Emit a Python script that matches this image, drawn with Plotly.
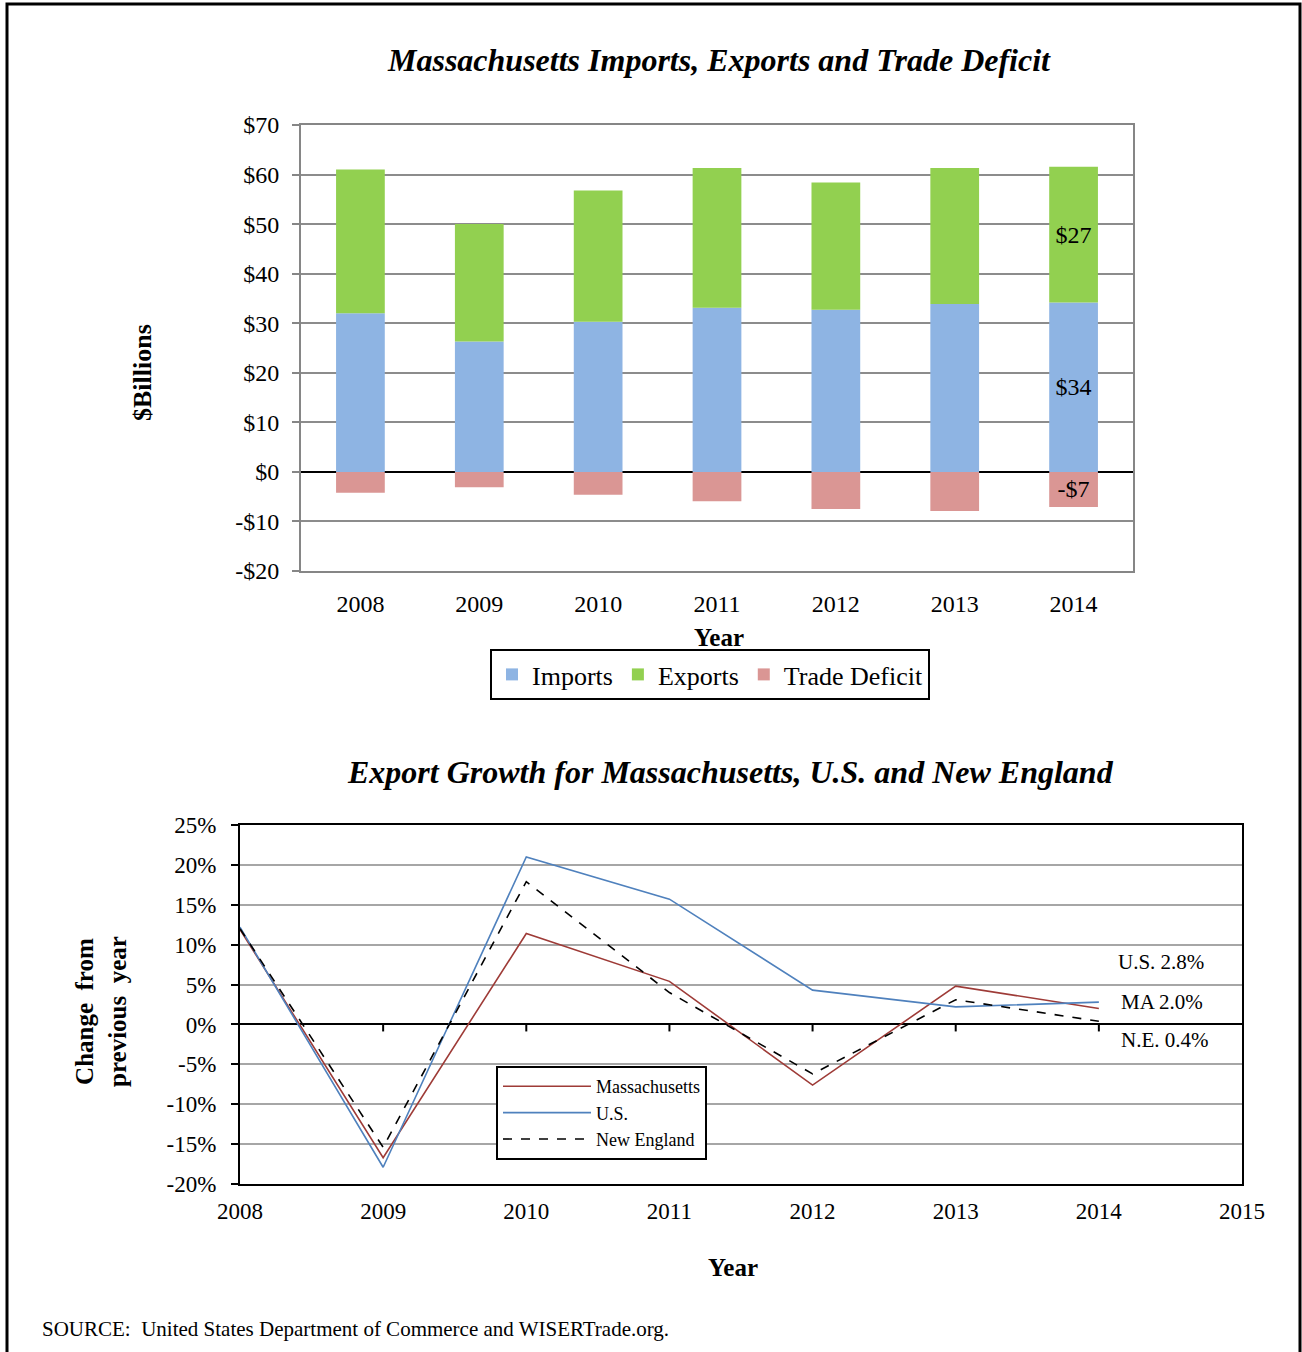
import plotly.graph_objects as go

# ---- Trade totals, $ billions ----
years = ["2008", "2009", "2010", "2011", "2012", "2013", "2014"]
imports = [32.0, 26.3, 30.3, 33.1, 32.7, 33.9, 34.2]
exports = [29.0, 23.7, 26.5, 28.2, 25.7, 27.4, 27.4]
trade_deficit = [-4.2, -3.1, -4.6, -5.9, -7.5, -7.9, -7.1]
bar_ticks = [-20, -10, 0, 10, 20, 30, 40, 50, 60, 70]
bar_tick_labels = ["-$20", "-$10", "$0", "$10", "$20", "$30", "$40", "$50", "$60", "$70"]

# ---- Export growth, % change from previous year ----
growth_years = [2008, 2009, 2010, 2011, 2012, 2013, 2014]
ma_growth = [11.9, -16.7, 11.4, 5.4, -7.6, 4.8, 2.0]
us_growth = [12.2, -17.9, 21.0, 15.7, 4.3, 2.2, 2.8]
ne_growth = [12.0, -15.4, 17.9, 4.0, -6.2, 3.1, 0.4]
growth_ticks = [-20, -15, -10, -5, 0, 5, 10, 15, 20, 25]
growth_tick_labels = [f"{v}%" for v in growth_ticks]
year_ticks = [2008, 2009, 2010, 2011, 2012, 2013, 2014, 2015]

W, H = 1302, 1352
SERIF = "Liberation Serif, Times New Roman, serif"


def px(x):
    return x / W


def py(y):
    return 1 - y / H


def last_only(vals, fmt):
    return [""] * (len(vals) - 1) + [fmt(vals[-1])]


fig = go.Figure()

# ---------- stacked bars ----------
bar_style = dict(xaxis="x", yaxis="y", legend="legend", marker_line_width=0,
                 textposition="inside", insidetextanchor="middle",
                 textfont=dict(family=SERIF, size=24, color="black"),
                 hoverinfo="x+y")
fig.add_trace(go.Bar(x=years, y=imports, name="Imports", marker_color="#8EB4E3",
                     text=last_only(imports, lambda v: f"${v:.0f}"), **bar_style))
fig.add_trace(go.Bar(x=years, y=exports, name="Exports", marker_color="#92D050",
                     text=last_only(exports, lambda v: f"${v:.0f}"), **bar_style))
fig.add_trace(go.Bar(x=years, y=trade_deficit, name="Trade Deficit", marker_color="#DA9694",
                     text=last_only(trade_deficit, lambda v: f"-${abs(v):.0f}"), **bar_style))

# ---------- growth lines ----------
line_style = dict(xaxis="x2", yaxis="y2", legend="legend2", mode="lines")
fig.add_trace(go.Scatter(x=growth_years, y=ma_growth, name="Massachusetts", legendgroup="ma",
                         line=dict(color="#9E3B37", width=1.6), **line_style))
fig.add_trace(go.Scatter(x=growth_years, y=us_growth, name="U.S.", legendgroup="us",
                         line=dict(color="#4F81BD", width=1.6), **line_style))
fig.add_trace(go.Scatter(x=growth_years, y=ne_growth, name="New England", legendgroup="ne",
                         line=dict(color="black", width=1.6, dash="dash"), **line_style))

top_tick_font = dict(family=SERIF, size=24, color="black")
low_tick_font = dict(family=SERIF, size=23, color="black")

fig.update_layout(
    width=W, height=H,
    margin=dict(l=0, r=0, t=0, b=0),
    paper_bgcolor="white", plot_bgcolor="white",
    template="none",
    barmode="relative", bargap=0.59,
    font=dict(family=SERIF, color="black"),
    xaxis=dict(domain=[px(301), px(1133)], anchor="y", type="category",
               showgrid=False, showline=True, linecolor="#868686", linewidth=2, mirror=True,
               ticks="outside", ticklen=10, tickcolor="rgba(0,0,0,0)",
               tickfont=top_tick_font, automargin=False, fixedrange=True),
    yaxis=dict(domain=[py(571), py(125)], anchor="x", range=[-20, 70],
               tickvals=bar_ticks, ticktext=bar_tick_labels,
               showgrid=True, gridcolor="#8C8C8C", gridwidth=1.5,
               zeroline=True, zerolinecolor="black", zerolinewidth=2,
               showline=True, linecolor="#868686", linewidth=2, mirror=True,
               ticks="outside", ticklen=7, tickcolor="#868686", tickwidth=1.5,
               ticklabelstandoff=8,
               tickfont=top_tick_font, automargin=False, fixedrange=True),
    xaxis2=dict(domain=[px(240), px(1242)], anchor="y2", range=[2008, 2015],
                tickvals=year_ticks, ticktext=[str(y) for y in year_ticks],
                showgrid=False, showline=True, linecolor="black", linewidth=2, mirror=True,
                ticks="outside", ticklen=5, tickcolor="rgba(0,0,0,0)",
                tickfont=low_tick_font,
                zeroline=False, automargin=False, fixedrange=True),
    yaxis2=dict(domain=[py(1184), py(825)], anchor="x2", range=[-20, 25],
                tickvals=growth_ticks, ticktext=growth_tick_labels,
                showgrid=True, gridcolor="#A6A6A6", gridwidth=2,
                zeroline=True, zerolinecolor="black", zerolinewidth=2,
                showline=True, linecolor="black", linewidth=2, mirror=True,
                ticks="outside", ticklen=7, tickcolor="black", tickwidth=2,
                ticklabelstandoff=10,
                tickfont=low_tick_font,
                automargin=False, fixedrange=True),
    legend=dict(orientation="h", x=px(710), xanchor="center", y=py(649), yanchor="top",
                bgcolor="white", bordercolor="black", borderwidth=2,
                font=dict(family=SERIF, size=26, color="black"),
                itemwidth=30, traceorder="normal"),
    legend2=dict(orientation="v", x=px(496), xanchor="left", y=py(1066), yanchor="top",
                 bgcolor="white", bordercolor="black", borderwidth=2,
                 font=dict(family=SERIF, size=18, color="black"),
                 tracegroupgap=7, itemwidth=88, traceorder="normal"),
    showlegend=True,
)

# tick marks where the year axis crosses zero
for yr in year_ticks[1:-1]:
    fig.add_shape(type="line", xref="x2", yref="y2", x0=yr, x1=yr,
                  ysizemode="pixel", yanchor=0, y0=0, y1=-7,
                  line=dict(color="black", width=2))

# outer frame of the page
fig.add_shape(type="rect", xref="paper", yref="paper",
              x0=px(7), x1=px(1300), y0=-0.02, y1=py(4),
              line=dict(color="black", width=3), fillcolor="rgba(0,0,0,0)", layer="above")


def note(text, x, y, size, bold=False, italic=False, angle=0, xanchor="center", xref="paper", yref="paper"):
    if bold:
        text = f"<b>{text}</b>"
    if italic:
        text = f"<i>{text}</i>"
    fig.add_annotation(text=text, x=x, y=y, xref=xref, yref=yref, showarrow=False,
                       xanchor=xanchor, yanchor="middle", textangle=angle,
                       font=dict(family=SERIF, size=size, color="black"))


note("Massachusetts Imports, Exports and Trade Deficit", px(719), py(60), 32, bold=True, italic=True)
note("$Billions", px(142), py(373), 26, bold=True, angle=-90)
note("Year", px(719), py(637), 25, bold=True)

note("Export Growth for Massachusetts, U.S. and New England", px(730), py(772), 32, bold=True, italic=True)
note("Change  from<br>previous  year", px(101), py(1012), 25, bold=True, angle=-90)
note("Year", px(733), py(1267), 25, bold=True)

# end-of-period labels for the growth lines
note(f"U.S. {us_growth[-1]:.1f}%", 2014.12, 7.8, 21, xanchor="left", xref="x2", yref="y2")
note(f"MA {ma_growth[-1]:.1f}%", 2014.14, 2.8, 21, xanchor="left", xref="x2", yref="y2")
note(f"N.E. {ne_growth[-1]:.1f}%", 2014.14, -1.9, 21, xanchor="left", xref="x2", yref="y2")

note("SOURCE:\u00a0 United States Department of Commerce and WISERTrade.org.",
     px(40), py(1329), 21, xanchor="left")

fig.write_html("out.html")
